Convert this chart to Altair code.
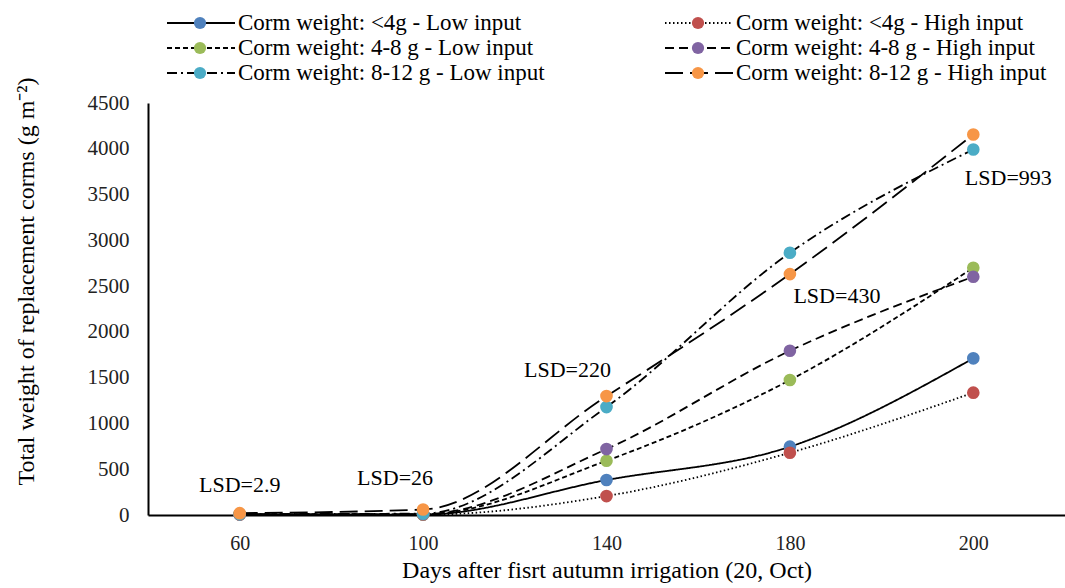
import altair as alt
import pandas as pd

days = ["60", "100", "140", "180", "200"]
series_names = [
    "Corm weight: <4g - Low input",
    "Corm weight: <4g - High input",
    "Corm weight: 4-8 g - Low input",
    "Corm weight: 4-8 g - High input",
    "Corm weight: 8-12 g - Low input",
    "Corm weight: 8-12 g - High input",
]
lt4_low = [8, 5, 382, 746, 1711]
lt4_high = [6, 4, 207, 680, 1336]
g48_low = [7, 8, 593, 1474, 2700]
g48_high = [7, 10, 720, 1794, 2602]
g812_low = [10, 15, 1179, 2864, 3992]
g812_high = [20, 60, 1299, 2631, 4156]
values = [lt4_low, lt4_high, g48_low, g48_high, g812_low, g812_high]

lsd_labels = ["LSD=2.9", "LSD=26", "LSD=220", "LSD=430", "LSD=993"]
lsd_days = ["60", "100", "140", "180", "200"]
lsd_y = [328, 404, 1584, 2392, 3680]

colors = ["#4F81BD", "#C0504D", "#9BBB59", "#8064A2", "#4BACC6", "#F79646"]
dashes = [[1, 0], [1.5, 2.5], [5, 3], [9, 5], [10, 4, 2, 4], [18, 7]]
lsd_dx = [0, -28, -39, 47, 35]

FONT = "Liberation Serif"

rows = []
for s, vals in zip(series_names, values):
    for d, v in zip(days, vals):
        rows.append({"day": d, "value": v, "series": s})
df = pd.DataFrame(rows)

color_scale = alt.Scale(domain=series_names, range=colors)
dash_scale = alt.Scale(domain=series_names, range=dashes)

x_enc = alt.X(
    "day:O",
    sort=days,
    scale=alt.Scale(type="point", padding=0.5),
    axis=alt.Axis(
        title="Days after fisrt autumn irrigation (20, Oct)",
        labelAngle=0,
        ticks=False,
        grid=False,
        labelPadding=18,
        titlePadding=5,
        labelFont=FONT,
        titleFont=FONT,
        labelFontSize=20,
        titleFontSize=24,
        labelColor="#222222",
        titleColor="black",
        titleFontWeight="normal",
        domainColor="black",
        domainWidth=2,
    ),
)
y_enc = alt.Y(
    "value:Q",
    scale=alt.Scale(domain=[0, 4500], nice=False),
    axis=alt.Axis(
        title="Total weight of replacement corms  (g m⁻²)",
        values=list(range(0, 4501, 500)),
        format="d",
        ticks=False,
        grid=False,
        labelPadding=19,
        labelFont=FONT,
        titleFont=FONT,
        labelFontSize=21,
        titleFontSize=24,
        labelColor="#222222",
        titleColor="black",
        titleFontWeight="normal",
        titleX=-110,
        titleY=178,
        domainColor="black",
        domainWidth=2,
    ),
)

lines = alt.Chart(df).mark_line(color="black", strokeWidth=1.8, interpolate="monotone").encode(
    x=x_enc,
    y=y_enc,
    strokeDash=alt.StrokeDash("series:N", scale=dash_scale, legend=None),
    detail="series:N",
)
points = alt.Chart(df).mark_circle(size=160, opacity=1).encode(
    x=x_enc,
    y=y_enc,
    color=alt.Color("series:N", scale=color_scale, legend=None),
    order=alt.Order("idx:Q"),
).transform_calculate(idx="indexof(" + str(series_names).replace("'", '"') + ", datum.series)")

lsd_df = pd.DataFrame({"day": lsd_days, "value": lsd_y, "label": lsd_labels})
texts = []
for i, dx in enumerate(lsd_dx):
    texts.append(
        alt.Chart(lsd_df.iloc[[i]]).mark_text(font=FONT, fontSize=22, dx=dx, color="black").encode(
            x=alt.X("day:O", sort=days), y="value:Q", text="label:N"
        )
    )

main = alt.layer(lines, points, *texts)

leg_df = pd.DataFrame({"series": series_names, "idx": list(range(len(series_names)))})
leg_base = alt.Chart(leg_df).transform_calculate(
    col="datum.idx % 2",
    row="floor(datum.idx / 2)",
).transform_calculate(
    x1="19 + datum.col * 498",
    yy="-80 + datum.row * 25",
).transform_calculate(
    x2="datum.x1 + 68",
    xc="datum.x1 + 33",
    xt="datum.x1 + 71",
)
leg_rule = leg_base.mark_rule(color="black", strokeWidth=1.8).encode(
    x=alt.X("x1:Q", scale=None, axis=None),
    x2="x2:Q",
    y=alt.Y("yy:Q", scale=None, axis=None),
    strokeDash=alt.StrokeDash("series:N", scale=dash_scale, legend=None),
)
leg_pt = leg_base.mark_circle(size=150, opacity=1).encode(
    x=alt.X("xc:Q", scale=None, axis=None),
    y=alt.Y("yy:Q", scale=None, axis=None),
    color=alt.Color("series:N", scale=color_scale, legend=None),
)
leg_txt = leg_base.mark_text(align="left", baseline="middle", font=FONT, fontSize=23, color="black").encode(
    x=alt.X("xt:Q", scale=None, axis=None),
    y=alt.Y("yy:Q", scale=None, axis=None),
    text="series:N",
)
legend = alt.layer(leg_rule, leg_pt, leg_txt)

chart = (
    alt.layer(main, legend)
    .resolve_scale(x="independent", y="independent")
    .properties(
        width=917,
        height=412,
        padding={"left": 148, "top": 103, "right": 0, "bottom": 73},
        autosize=alt.AutoSizeParams(type="none"),
        background="white",
    )
    .configure_view(stroke=None)
)

chart.save("out.html", embed_options={"renderer": "svg", "actions": False})
